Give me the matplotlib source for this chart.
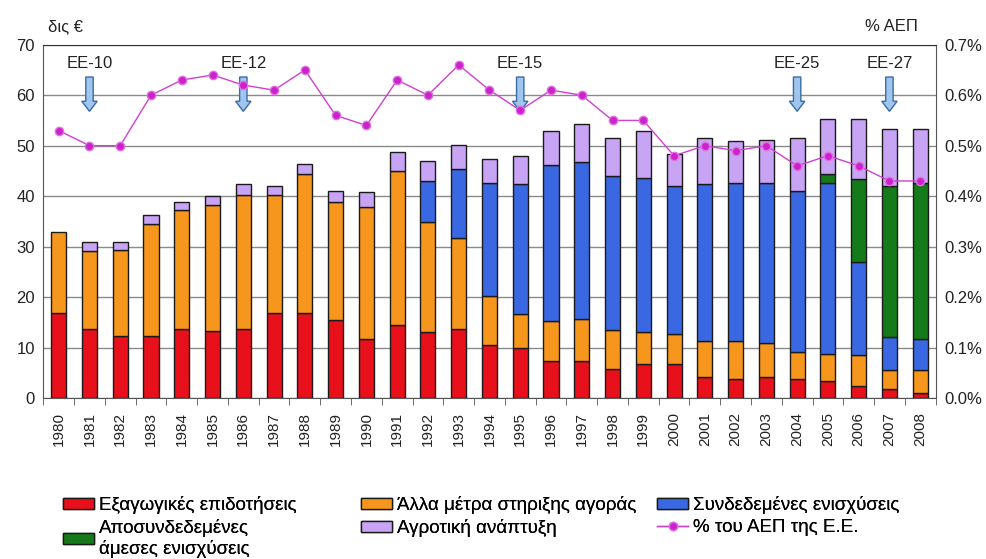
import matplotlib.pyplot as plt
from matplotlib.patches import FancyArrow
import numpy as np

plt.rcParams["font.family"] = ["Liberation Sans", "DejaVu Sans"]

years = [str(y) for y in range(1980, 2009)]

# stacked segments, δις € (cumulative tops)
export_sub = [16.8, 13.7, 12.2, 12.2, 13.7, 13.2, 13.7, 16.8, 16.8, 15.5,
              11.6, 14.5, 13.1, 13.7, 10.6, 9.9, 7.3, 7.3, 5.8, 6.7,
              6.7, 4.1, 3.8, 4.1, 3.8, 3.4, 2.4, 1.7, 1.0]
other_top = [32.8, 29.1, 29.4, 34.5, 37.3, 38.2, 40.3, 40.3, 44.3, 38.8,
             37.8, 45.0, 34.8, 31.8, 20.3, 16.7, 15.2, 15.7, 13.5, 13.1,
             12.7, 11.2, 11.2, 10.9, 9.1, 8.8, 8.5, 5.5, 5.5]
coupled_top = [32.8, 29.1, 29.4, 34.5, 37.3, 38.2, 40.3, 40.3, 44.3, 38.8,
               37.8, 45.0, 42.9, 45.4, 42.7, 42.4, 46.1, 46.7, 43.9, 43.6,
               42.1, 42.4, 42.7, 42.7, 41.1, 42.7, 26.9, 12.0, 11.6]
decoupled_top = [32.8, 29.1, 29.4, 34.5, 37.3, 38.2, 40.3, 40.3, 44.3, 38.8,
                 37.8, 45.0, 42.9, 45.4, 42.7, 42.4, 46.1, 46.7, 43.9, 43.6,
                 42.1, 42.4, 42.7, 42.7, 41.1, 44.3, 43.3, 42.1, 42.6]
total_top = [32.8, 30.9, 30.9, 36.3, 38.8, 40.0, 42.4, 42.1, 46.4, 41.1,
             40.8, 48.7, 46.9, 50.2, 47.4, 47.9, 53.0, 54.2, 51.5, 53.0,
             48.4, 51.5, 50.9, 51.2, 51.5, 55.2, 55.2, 53.3, 53.3]

# % του ΑΕΠ
gdp_pct = [0.53, 0.50, 0.50, 0.60, 0.63, 0.64, 0.62, 0.61, 0.65, 0.56,
           0.54, 0.63, 0.60, 0.66, 0.61, 0.57, 0.61, 0.60, 0.55, 0.55,
           0.48, 0.50, 0.49, 0.50, 0.46, 0.48, 0.46, 0.43, 0.43]

enlargements = [("ΕΕ-10", "1981"), ("ΕΕ-12", "1986"), ("ΕΕ-15", "1995"),
                ("ΕΕ-25", "2004"), ("ΕΕ-27", "2007")]

c_red = "#E8101A"
c_orange = "#F7961C"
c_blue = "#3A68E2"
c_green = "#157A1A"
c_purple = "#C8A4F4"
c_line = "#D040D0"

x = np.arange(len(years))
export_sub = np.array(export_sub)
other_top = np.array(other_top)
coupled_top = np.array(coupled_top)
decoupled_top = np.array(decoupled_top)
total_top = np.array(total_top)

fig = plt.figure(figsize=(9.87, 5.59), dpi=100)
ax = fig.add_axes([0.0439, 0.288, 0.904, 0.632])

w = 0.49
kw = dict(width=w, edgecolor="#1a1a1a", linewidth=1.0, zorder=3)
b1 = ax.bar(x, export_sub, color=c_red, label="Εξαγωγικές επιδοτήσεις", **kw)
b2 = ax.bar(x, other_top - export_sub, bottom=export_sub, color=c_orange,
            label="Άλλα μέτρα στηριξης αγοράς", **kw)
m = coupled_top > other_top
b3 = ax.bar(x[m], (coupled_top - other_top)[m], bottom=other_top[m], color=c_blue,
            label="Συνδεδεμένες ενισχύσεις", **kw)
m = decoupled_top > coupled_top
b4 = ax.bar(x[m], (decoupled_top - coupled_top)[m], bottom=coupled_top[m], color=c_green,
            label="Αποσυνδεδεμένες\nάμεσες ενισχύσεις", **kw)
m = total_top > decoupled_top
b5 = ax.bar(x[m], (total_top - decoupled_top)[m], bottom=decoupled_top[m], color=c_purple,
            label="Αγροτική ανάπτυξη", **kw)

ax.set_xlim(-0.5, len(years) - 0.5)
ax.set_ylim(0, 70)
ax.set_yticks(range(0, 71, 10))
ax.yaxis.grid(True, color="#8a8a8a", linewidth=1.0, zorder=0)
ax.set_axisbelow(True)
for s in ax.spines.values():
    s.set_color("#555555")
ax.spines["top"].set_color("#333333")

ax.set_xticks(x)
ax.set_xticklabels(years, rotation=90, fontsize=11, color="#222222")
ax.set_xticks(np.arange(-0.5, len(years), 1), minor=True)
ax.tick_params(axis="x", which="major", length=0, pad=10)
ax.tick_params(axis="x", which="minor", length=5, direction="out", color="#555555")
ax.tick_params(axis="y", length=0, labelsize=12, pad=6, colors="#222222")

ax2 = ax.twinx()
ax2.set_ylim(0, 0.007)
ax2.set_yticks(np.arange(0, 0.0071, 0.001))
ax2.set_yticklabels([f"{v:.1f}%" for v in np.arange(0, 0.71, 0.1)])
ax2.tick_params(axis="y", length=0, labelsize=12, pad=6, colors="#222222")
for s in ax2.spines.values():
    s.set_visible(False)
ln, = ax2.plot(x, np.array(gdp_pct) / 100, color=c_line, linewidth=1.0, marker="o",
               markersize=6, markerfacecolor="#CC22CC", markeredgecolor="#E070E0",
               label="% του ΑΕΠ της Ε.Ε.", zorder=5)

for lab, yr in enlargements:
    xi = years.index(yr)
    ax.add_patch(FancyArrow(xi, 63.6, 0, -6.8, width=0.24, head_width=0.5, head_length=2.0,
                            length_includes_head=True, fc="#9EC6EE", ec="#3B6AA6",
                            linewidth=1.0, zorder=6))
    ax.text(xi, 66.2, lab, ha="center", va="center", fontsize=12, color="#222222")

fig.text(0.049, 0.952, "δις €", fontsize=12, color="#222222", va="center")
fig.text(0.93, 0.952, "% ΑΕΠ", fontsize=12, color="#222222", va="center", ha="right")

# legend: three columns placed separately
cols = [([b1, b4], 0.064), ([b2, b5], 0.366), ([b3, ln], 0.666)]
for hs, x0 in cols:
    leg = fig.legend(hs, [h.get_label() for h in hs], loc="upper left",
                     bbox_to_anchor=(x0, 0.113), frameon=False, fontsize=13.5,
                     handlelength=1.65, handleheight=0.55, handletextpad=0.25,
                     labelspacing=0.3, borderpad=0, borderaxespad=0)
    fig.add_artist(leg)

fig.savefig("out.png", dpi=100)
